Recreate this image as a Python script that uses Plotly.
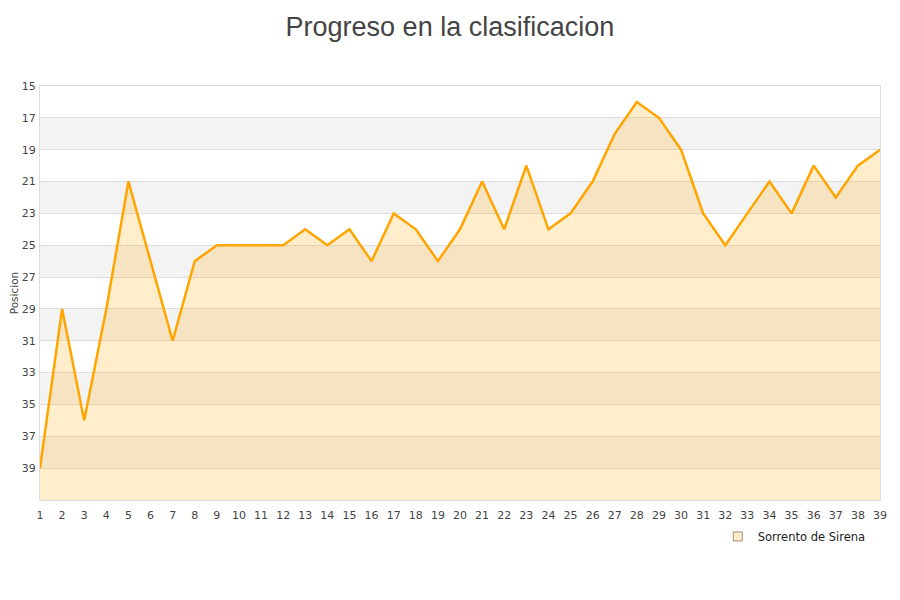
import plotly.graph_objects as go

# Jornadas y posicion del equipo
jornadas = list(range(1, 40))
posicion = [39, 29, 36, 29, 21, 26, 31, 26, 25, 25,
            25, 25, 24, 25, 24, 26, 23, 24, 26, 24,
            21, 24, 20, 24, 23, 21, 18, 16, 17, 19,
            23, 25, 23, 21, 23, 20, 22, 20, 19]
y_ticks = list(range(15, 41, 2))
equipo = "Sorrento de Sirena"

fig = go.Figure()

# linea base para el relleno (fondo del eje invertido)
fig.add_trace(go.Scatter(
    x=jornadas, y=[41] * len(jornadas), mode="lines",
    line=dict(width=0), showlegend=False, hoverinfo="skip"))

fig.add_trace(go.Scatter(
    x=jornadas, y=posicion, mode="lines", name=equipo,
    line=dict(color="#FFA500", width=2.5),
    fill="tonexty", fillcolor="rgba(255,165,0,0.2)",
    showlegend=False))

# entrada de leyenda
fig.add_trace(go.Scatter(
    x=[None], y=[None], mode="markers", name=equipo,
    marker=dict(symbol="square", size=9, color="#FFEDCC",
                line=dict(color="#A08C70", width=1))))

# bandas alternas
shapes = []
for i, lo in enumerate(y_ticks):
    if i % 2 == 1:
        shapes.append(dict(type="rect", xref="paper", yref="y",
                           x0=0, x1=1, y0=lo, y1=lo + 2,
                           fillcolor="#F3F3F3", line=dict(width=0),
                           layer="below"))

fig.update_layout(
    width=900, height=600,
    margin=dict(l=32, r=28, t=78, b=108),
    paper_bgcolor="white", plot_bgcolor="white",
    title=dict(text="Progreso en la clasificacion", x=0.491, xanchor="center",
               y=0.985, yanchor="top",
               font=dict(family="Liberation Sans, Arial", size=27, color="#444")),
    shapes=shapes,
    font=dict(family="DejaVu Sans, Verdana", size=11, color="#444"),
    legend=dict(x=0.989, y=-0.053, xanchor="right", yanchor="top",
                font=dict(size=11.5, color="#222"), bgcolor="rgba(0,0,0,0)"),
    xaxis=dict(range=[1, 39], tickmode="array", tickvals=jornadas,
               showgrid=False, zeroline=False, ticks="", automargin=False,
               ticklabelstandoff=5,
               showline=True, linecolor="#DDDDDD", mirror=True),
    yaxis=dict(range=[41, 15], tickmode="array", tickvals=y_ticks,
               showgrid=True, gridcolor="#DDDDDD", zeroline=False, ticks="",
               showline=True, linecolor="#DDDDDD", mirror=True, automargin=False,
               ticklabelstandoff=1,
               title=dict(text="Posicion", standoff=6, font=dict(size=10.5))),
)

fig.write_html("out.html")
